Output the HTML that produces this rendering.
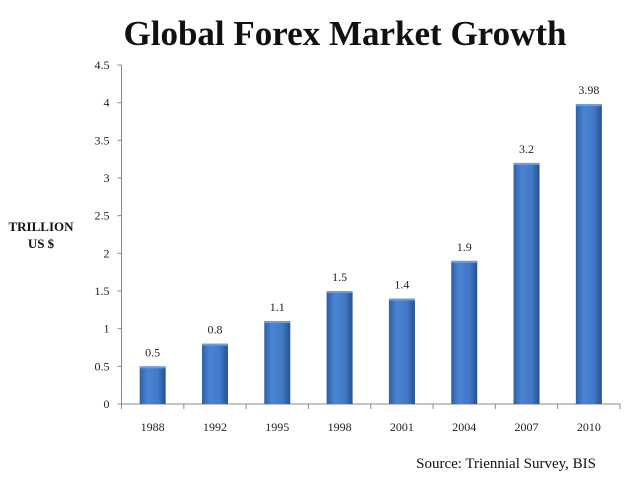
<!DOCTYPE html>
<html><head><meta charset="utf-8"><style>
body{margin:0;background:#fff;width:638px;height:479px;overflow:hidden}
svg{font-family:"Liberation Serif",serif}
</style></head><body>
<svg width="638" height="479">
<defs>
<linearGradient id="g" x1="0" x2="1" y1="0" y2="0">
<stop offset="0" stop-color="#2f5fa6"/><stop offset="0.3" stop-color="#4a84d2"/><stop offset="0.7" stop-color="#4279c6"/><stop offset="1" stop-color="#24508f"/>
</linearGradient>
</defs>
<text x="345" y="45" text-anchor="middle" font-size="35" font-weight="bold" fill="#111">Global Forex Market Growth</text>
<text x="41" y="231" text-anchor="middle" font-size="13" font-weight="bold" fill="#111"><tspan x="41">TRILLION</tspan><tspan x="41" dy="17">US $</tspan></text>
<g id="axes"></g><g id="bars"></g>
<text x="596" y="468" text-anchor="end" font-size="15" fill="#111">Source: Triennial Survey, BIS</text>
</svg>
<script>
const categories=["1988","1992","1995","1998","2001","2004","2007","2010"];
const values=[0.5,0.8,1.1,1.5,1.4,1.9,3.2,3.98];
const valueLabels=["0.5","0.8","1.1","1.5","1.4","1.9","3.2","3.98"];
const yTicks=[0,0.5,1,1.5,2,2.5,3,3.5,4,4.5];
const NS="http://www.w3.org/2000/svg";
const x0=121.5,x1=620,y0=404,yTop=65,yMax=4.5;
const bw=(x1-x0)/categories.length;
function y(v){return y0-(v/yMax)*(y0-yTop);}
function xc(i){return x0+bw*(i+0.5);}
function mk(t,a,p,txt){const e=document.createElementNS(NS,t);for(const k in a)e.setAttribute(k,a[k]);if(txt!=null)e.textContent=txt;p.appendChild(e);return e;}
const ax=document.getElementById('axes'),bg=document.getElementById('bars');
const ya=mk('line',{x1:x0,x2:x0,y1:yTop,y2:y0,stroke:'#888'},ax);


const xa=mk('line',{x1:x0-4,x2:x1,y1:y0,y2:y0,stroke:'#888'},ax);


yTicks.forEach(v=>{
 mk('line',{x1:x0-4,x2:x0,y1:y(v),y2:y(v),stroke:'#888'},ax);
 const t=mk('text',{x:x0-12,y:y(v)+4,'text-anchor':'end','font-size':12,fill:'#222'},ax,String(v));
 
 
});
for(let i=0;i<=categories.length;i++){mk('line',{x1:x0+bw*i,x2:x0+bw*i,y1:y0,y2:y0+5,stroke:'#888'},ax);}
categories.forEach((c,i)=>{
 const t=mk('text',{x:xc(i),y:y0+27,'text-anchor':'middle','font-size':12,fill:'#222'},ax,c);
 
 
 const r=mk('rect',{x:xc(i)-13,y:y(values[i]),width:26,height:y0-y(values[i]),fill:'url(#g)'},bg);
 
 
 mk('rect',{x:xc(i)-13,y:y(values[i]),width:26,height:2,fill:'#6b9be0'},bg);
 const l=mk('text',{x:xc(i),y:y(values[i])-10,'text-anchor':'middle','font-size':12,fill:'#222'},bg,valueLabels[i]);
 
 
});
</script>
</body></html>
